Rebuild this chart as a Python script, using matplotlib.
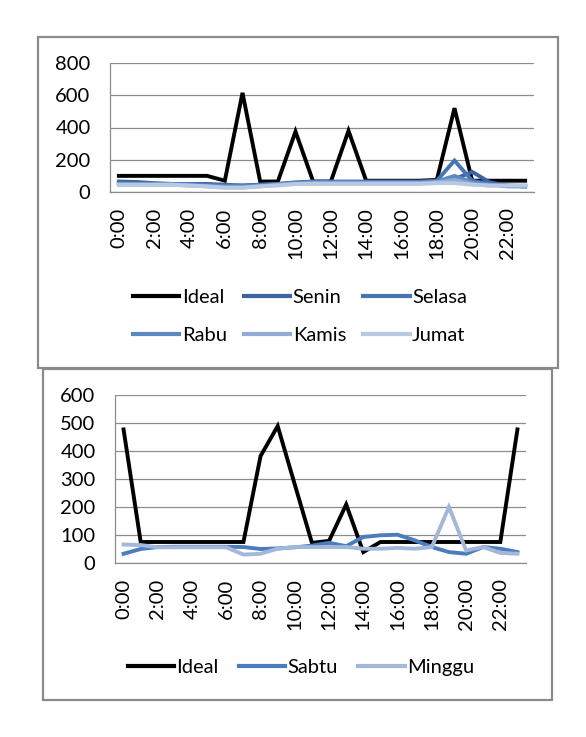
import matplotlib
matplotlib.use("Agg")
import matplotlib.pyplot as plt
from matplotlib.patches import Rectangle
from matplotlib.lines import Line2D

plt.rcParams['font.family'] = ['Lato', 'DejaVu Sans']

hours = [f"{h}:00" for h in range(24)]
tick_labels = [f"{h}:00" for h in range(0, 24, 2)]

# Top chart (weekdays)
ideal_top = [100, 100, 100, 100, 100, 100, 70, 615, 65, 65, 375, 65, 65, 380, 70, 70, 70, 70, 75, 520, 70, 70, 70, 70]
senin = [65, 62, 55, 50, 50, 50, 45, 40, 45, 50, 55, 60, 60, 60, 60, 60, 60, 60, 65, 80, 125, 60, 40, 35]
selasa = [55, 55, 50, 50, 50, 45, 40, 40, 45, 50, 60, 65, 65, 65, 65, 65, 65, 65, 70, 195, 70, 50, 35, 35]
rabu = [50, 50, 50, 50, 45, 40, 35, 35, 40, 45, 55, 60, 60, 60, 60, 60, 60, 60, 65, 100, 60, 45, 40, 35]
kamis = [45, 45, 45, 45, 40, 35, 30, 30, 35, 45, 50, 55, 55, 55, 55, 55, 55, 55, 60, 75, 50, 40, 40, 40]
jumat = [45, 45, 45, 45, 40, 35, 25, 25, 35, 40, 50, 50, 50, 50, 50, 50, 50, 50, 55, 55, 45, 40, 40, 40]

# Bottom chart (weekend)
ideal_bot = [477, 75, 75, 75, 75, 75, 75, 75, 382, 489, 280, 72, 79, 209, 39, 75, 75, 75, 75, 75, 75, 75, 75, 477]
sabtu = [33, 50, 57, 58, 58, 58, 58, 57, 50, 52, 56, 62, 72, 60, 93, 99, 101, 81, 57, 39, 33, 57, 51, 39]
minggu = [66, 64, 56, 56, 56, 56, 56, 30, 33, 51, 57, 57, 57, 57, 51, 51, 54, 51, 57, 200, 45, 57, 36, 33]

top_names = ["Ideal", "Senin", "Selasa", "Rabu", "Kamis", "Jumat"]
top_colors = ["#000000", "#3C64A4", "#4675B5", "#5D88C3", "#93ACD5", "#B8C9E4"]
bot_names = ["Ideal", "Sabtu", "Minggu"]
bot_colors = ["#000000", "#4A7DBB", "#A3B7DA"]

W, H = 586, 737
fig = plt.figure(figsize=(W / 100, H / 100), dpi=100)

grid_c = "#8c8c8c"
FS = 14.5


def box(x0, y0, x1, y1):
    fig.patches.append(Rectangle((x0 / W, 1 - y1 / H), (x1 - x0) / W, (y1 - y0) / H,
                                 transform=fig.transFigure, fill=False,
                                 edgecolor="#8a8a8a", linewidth=1.6))


def ax_at(x0, y0, x1, y1):
    return fig.add_axes([x0 / W, 1 - y1 / H, (x1 - x0) / W, (y1 - y0) / H])


def style(ax, ymax, step):
    ax.set_xlim(-0.5, 23.5)
    ax.set_ylim(0, ymax)
    ax.set_yticks(range(0, ymax + 1, step))
    ax.set_xticks(range(0, 24, 2))
    ax.set_xticklabels(tick_labels, rotation=90)
    ax.yaxis.grid(True, color=grid_c, linewidth=0.9)
    ax.set_axisbelow(True)
    for s in ["top", "right"]:
        ax.spines[s].set_visible(False)
    for s in ["left", "bottom"]:
        ax.spines[s].set_color(grid_c)
        ax.spines[s].set_linewidth(0.9)
    ax.tick_params(axis="y", length=0, pad=14, labelsize=FS)
    ax.tick_params(axis="x", length=0, pad=11, labelsize=FS)


# ---- top chart
box(38, 37, 558, 368)
ax1 = ax_at(110, 63, 534, 192)
x = list(range(24))
top_series = [ideal_top, senin, selasa, rabu, kamis, jumat]
for i, (vals, name, c) in enumerate(zip(top_series, top_names, top_colors)):
    ax1.plot(x, vals, color=c, linewidth=2.8, label=name, zorder=2 + i,
             solid_joinstyle="miter", clip_on=False)
style(ax1, 800, 200)

h = [Line2D([], [], color=c, linewidth=3) for c in top_colors]
order = [0, 3, 1, 4, 2, 5]
fig.legend([h[i] for i in order], [top_names[i] for i in order],
           loc="center", bbox_to_anchor=(300 / W, 1 - 316.5 / H), ncol=3,
           frameon=False, fontsize=FS, handlelength=2.3, handletextpad=0.12,
           columnspacing=0.85, labelspacing=1.0, borderpad=0)

# ---- bottom chart
box(43, 369, 552, 700)
ax2 = ax_at(115, 395, 526, 563)
bot_series = [ideal_bot, sabtu, minggu]
for i, (vals, name, c) in enumerate(zip(bot_series, bot_names, bot_colors)):
    ax2.plot(x, vals, color=c, linewidth=2.8, label=name, zorder=2 + i,
             solid_joinstyle="miter", clip_on=False)
style(ax2, 600, 100)

h2 = [Line2D([], [], color=c, linewidth=3) for c in bot_colors]
fig.legend(h2, bot_names, loc="center", bbox_to_anchor=(301 / W, 1 - 667 / H),
           ncol=3, frameon=False, fontsize=FS, handlelength=2.3,
           handletextpad=0.12, columnspacing=1.0, borderpad=0)

fig.savefig("out.png", dpi=100)
